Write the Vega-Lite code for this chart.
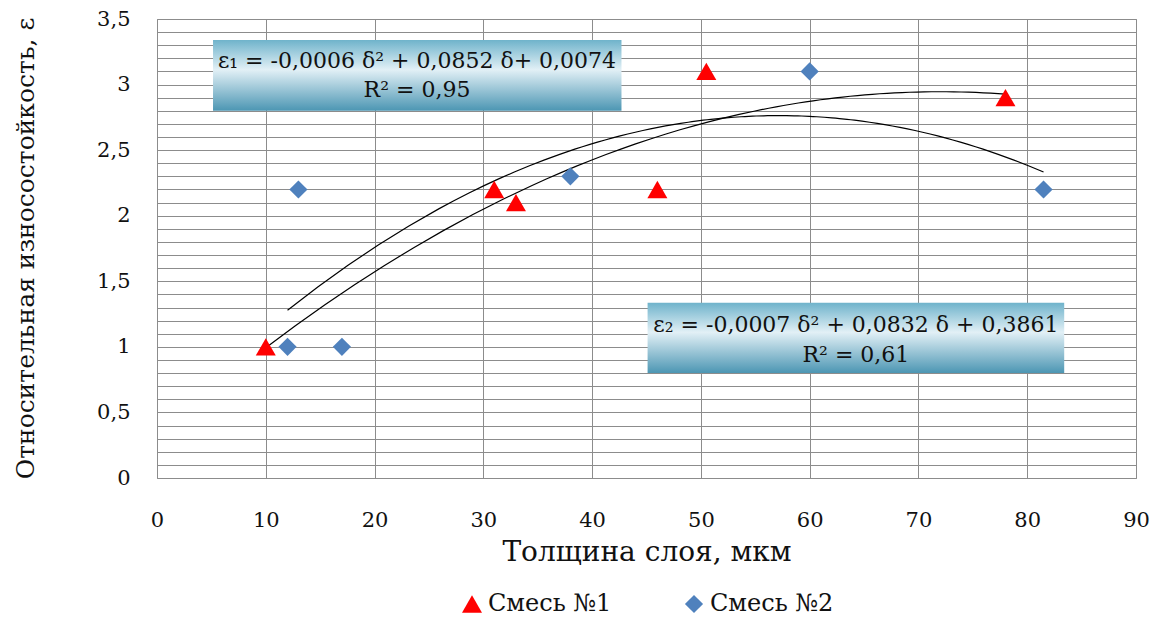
{
  "$schema": "https://vega.github.io/schema/vega-lite/v6.json",
  "width": 979,
  "height": 459,
  "autosize": {"type": "none"},
  "padding": {"left": 157, "top": 19, "right": 19, "bottom": 143},
  "background": "white",
  "config": {
    "font": "DejaVu Serif",
    "view": {"stroke": "#8c8c8c", "strokeWidth": 1}
  },
  "datasets": {
    "points": [
      {"series": "Смесь №1", "thickness": 10, "wear": 1.0},
      {"series": "Смесь №1", "thickness": 31, "wear": 2.2},
      {"series": "Смесь №1", "thickness": 33, "wear": 2.1},
      {"series": "Смесь №1", "thickness": 46, "wear": 2.2},
      {"series": "Смесь №1", "thickness": 50.5, "wear": 3.1},
      {"series": "Смесь №1", "thickness": 78, "wear": 2.9},
      {"series": "Смесь №2", "thickness": 12, "wear": 1.0},
      {"series": "Смесь №2", "thickness": 13, "wear": 2.2},
      {"series": "Смесь №2", "thickness": 17, "wear": 1.0},
      {"series": "Смесь №2", "thickness": 38, "wear": 2.3},
      {"series": "Смесь №2", "thickness": 60, "wear": 3.1},
      {"series": "Смесь №2", "thickness": 81.5, "wear": 2.2}
    ]
  },
  "layer": [
    {
      "data": {"name": "points"},
      "transform": [
        {"regression": "wear", "on": "thickness", "method": "poly", "order": 2, "groupby": ["series"]}
      ],
      "mark": {"type": "line", "color": "#000000", "strokeWidth": 1.2},
      "encoding": {
        "x": {
          "field": "thickness", "type": "quantitative",
          "scale": {"domain": [0, 90], "nice": false, "zero": false},
          "axis": {
            "values": [0, 10, 20, 30, 40, 50, 60, 70, 80, 90],
            "tickCount": 20,
            "grid": true, "gridColor": "#8c8c8c", "gridOpacity": 1, "gridWidth": 1,
            "ticks": false, "domain": false,
            "labelFont": "DejaVu Serif", "labelFontSize": 21, "labelColor": "#111111",
            "labelPadding": 31, "labelFlush": false,
            "title": "Толщина слоя, мкм",
            "titleFont": "DejaVu Serif", "titleFontSize": 28, "titleFontWeight": "normal",
            "titleColor": "#111111", "titleY": 74, "titleBaseline": "middle"
          }
        },
        "y": {
          "field": "wear", "type": "quantitative",
          "scale": {"domain": [0, 3.5], "nice": false, "zero": false},
          "axis": {
            "values": [0, 0.1, 0.2, 0.3, 0.4, 0.5, 0.6, 0.7, 0.8, 0.9, 1, 1.1, 1.2, 1.3, 1.4, 1.5, 1.6, 1.7, 1.8, 1.9, 2, 2.1, 2.2, 2.3, 2.4, 2.5, 2.6, 2.7, 2.8, 2.9, 3, 3.1, 3.2, 3.3, 3.4, 3.5],
            "tickCount": 50,
            "labelExpr": "abs(datum.value * 2 - round(datum.value * 2)) < 0.001 ? replace(format(datum.value, '.1~f'), '.', ',') : ''",
            "grid": true, "gridColor": "#8c8c8c", "gridOpacity": 1, "gridWidth": 1,
            "ticks": false, "domain": false,
            "labelFont": "DejaVu Serif", "labelFontSize": 21, "labelColor": "#111111",
            "labelPadding": 27, "labelFlush": false, "labelOverlap": false,
            "title": "Относительная износостойкость, ε",
            "titleFont": "DejaVu Serif", "titleFontSize": 25, "titleFontWeight": "normal",
            "titleColor": "#111111", "titleX": -132, "titleY": 229, "titleBaseline": "middle", "titleAlign": "center", "titleAngle": -90
          }
        },
        "detail": {"field": "series"}
      }
    },
    {
      "data": {"values": [{}]},
      "mark": {
        "type": "rect",
        "color": {
          "gradient": "linear", "x1": 0, "y1": 0, "x2": 0, "y2": 1,
          "stops": [
            {"offset": 0, "color": "#6fb3cb"},
            {"offset": 0.42, "color": "#e2f0f6"},
            {"offset": 1, "color": "#4c96b3"}
          ]
        }
      },
      "encoding": {
        "x": {"datum": 5.15, "type": "quantitative"},
        "x2": {"datum": 42.7},
        "y": {"datum": 3.34, "type": "quantitative"},
        "y2": {"datum": 2.8}
      }
    },
    {
      "data": {"values": [{}]},
      "mark": {
        "type": "rect",
        "color": {
          "gradient": "linear", "x1": 0, "y1": 0, "x2": 0, "y2": 1,
          "stops": [
            {"offset": 0, "color": "#6fb3cb"},
            {"offset": 0.42, "color": "#e2f0f6"},
            {"offset": 1, "color": "#4c96b3"}
          ]
        }
      },
      "encoding": {
        "x": {"datum": 45.1, "type": "quantitative"},
        "x2": {"datum": 83.4},
        "y": {"datum": 1.336, "type": "quantitative"},
        "y2": {"datum": 0.8}
      }
    },
    {
      "data": {"values": [{}]},
      "mark": {"type": "text", "text": "ε₁ = -0,0006 δ² + 0,0852 δ+ 0,0074", "font": "DejaVu Serif", "fontSize": 22, "color": "#111111", "align": "center", "baseline": "middle"},
      "encoding": {"x": {"datum": 23.9, "type": "quantitative"}, "y": {"datum": 3.18, "type": "quantitative"}}
    },
    {
      "data": {"values": [{}]},
      "mark": {"type": "text", "text": "R² = 0,95", "font": "DejaVu Serif", "fontSize": 22, "color": "#111111", "align": "center", "baseline": "middle"},
      "encoding": {"x": {"datum": 23.9, "type": "quantitative"}, "y": {"datum": 2.955, "type": "quantitative"}}
    },
    {
      "data": {"values": [{}]},
      "mark": {"type": "text", "text": "ε₂ = -0,0007 δ² + 0,0832 δ + 0,3861", "font": "DejaVu Serif", "fontSize": 22, "color": "#111111", "align": "center", "baseline": "middle"},
      "encoding": {"x": {"datum": 64.25, "type": "quantitative"}, "y": {"datum": 1.168, "type": "quantitative"}}
    },
    {
      "data": {"values": [{}]},
      "mark": {"type": "text", "text": "R² = 0,61", "font": "DejaVu Serif", "fontSize": 22, "color": "#111111", "align": "center", "baseline": "middle"},
      "encoding": {"x": {"datum": 64.25, "type": "quantitative"}, "y": {"datum": 0.94, "type": "quantitative"}}
    },
    {
      "data": {"name": "points"},
      "mark": {"type": "point", "filled": true, "opacity": 1, "strokeWidth": 0},
      "encoding": {
        "x": {"field": "thickness", "type": "quantitative"},
        "y": {"field": "wear", "type": "quantitative"},
        "color": {
          "field": "series", "type": "nominal",
          "scale": {"domain": ["Смесь №1", "Смесь №2"], "range": ["#ff0000", "#4f81bd"]},
          "legend": {
            "title": null, "orient": "none", "legendX": 303, "legendY": 573,
            "direction": "horizontal", "columns": 2, "columnPadding": 70,
            "labelFont": "DejaVu Serif", "labelFontSize": 24, "labelColor": "#111111",
            "labelOffset": 4, "symbolSize": 280
          }
        },
        "shape": {
          "field": "series", "type": "nominal",
          "scale": {"domain": ["Смесь №1", "Смесь №2"], "range": ["triangle-up", "diamond"]}
        },
        "size": {
          "field": "series", "type": "nominal",
          "scale": {"domain": ["Смесь №1", "Смесь №2"], "range": [400, 330]},
          "legend": null
        }
      }
    }
  ]
}
